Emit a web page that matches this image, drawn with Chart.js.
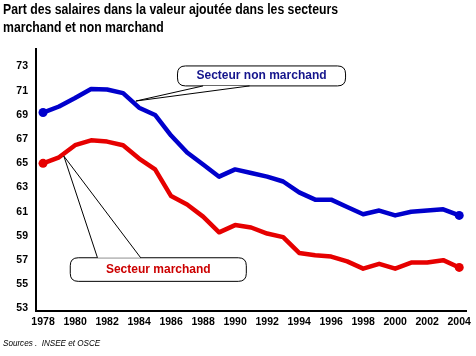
<!DOCTYPE html>
<html><head><meta charset="utf-8">
<script src="https://cdn.jsdelivr.net/npm/chart.js@4.4.0/dist/chart.umd.min.js"></script>
<style>html,body{margin:0;padding:0;background:#fff;}canvas{display:block}</style>
</head><body>
<canvas id="c" width="476" height="356"></canvas>
<script>
// ---- data ----
const years = [1978,1979,1980,1981,1982,1983,1984,1985,1986,1987,1988,1989,1990,1991,1992,1993,1994,1995,1996,1997,1998,1999,2000,2001,2002,2003,2004];
const nonMarchand = [69.2,69.7,70.4,71.15,71.1,70.8,69.6,69.0,67.3,65.9,64.9,63.9,64.5,64.2,63.9,63.5,62.6,62.0,62.0,61.4,60.8,61.1,60.7,61.0,61.1,61.2,60.7];
const marchand = [65.0,65.5,66.5,66.9,66.8,66.5,65.4,64.5,62.3,61.6,60.6,59.3,59.9,59.7,59.2,58.9,57.6,57.4,57.3,56.9,56.3,56.7,56.3,56.8,56.8,57.0,56.4];
const xTickLabels = [1978,1980,1982,1984,1986,1988,1990,1992,1994,1996,1998,2000,2002,2004];
const yTickLabels = [53,55,57,59,61,63,65,67,69,71,73];
const titleLines = ['Part des salaires dans la valeur ajoutée dans les secteurs','marchand et non marchand'];
const sourceText = 'Sources .  INSEE et OSCE';
const calloutLabels = ['Secteur non marchand','Secteur marchand'];

// ---- callouts (in data units) ----
const callouts = [
  {text: calloutLabels[0], color: '#14148c', box: [1986.4, 73.05, 1996.9, 71.4], tip: [1983.8, 70.15], base: [1988.0, 1990.9], side: 'bottom'},
  {text: calloutLabels[1], color: '#cc0000', box: [1979.7, 57.2, 1990.7, 55.25], tip: [1979.3, 65.6], base: [1981.4, 1984.1], side: 'top'}
];

const FONT = "'Liberation Sans', Arial, sans-serif";

function shape(ctx, x1, y1, x2, y2, r) {
  ctx.beginPath();
  ctx.moveTo(x1 + r, y1);
  ctx.lineTo(x2 - r, y1);
  ctx.quadraticCurveTo(x2, y1, x2, y1 + r);
  ctx.lineTo(x2, y2 - r);
  ctx.quadraticCurveTo(x2, y2, x2 - r, y2);
  ctx.lineTo(x1 + r, y2);
  ctx.quadraticCurveTo(x1, y2, x1, y2 - r);
  ctx.lineTo(x1, y1 + r);
  ctx.quadraticCurveTo(x1, y1, x1 + r, y1);
  ctx.closePath();
}

const calloutPlugin = {
  id: 'callouts',
  afterDatasetsDraw(chart) {
    const ctx = chart.ctx, xs = chart.scales.x, ys = chart.scales.y;
    callouts.forEach(c => {
      const x1 = xs.getPixelForValue(c.box[0]), x2 = xs.getPixelForValue(c.box[2]);
      const y1 = ys.getPixelForValue(c.box[1]), y2 = ys.getPixelForValue(c.box[3]);
      const tx = xs.getPixelForValue(c.tip[0]), ty = ys.getPixelForValue(c.tip[1]);
      const bx1 = xs.getPixelForValue(c.base[0]), bx2 = xs.getPixelForValue(c.base[1]);
      const by = c.side === 'bottom' ? y2 : y1;
      ctx.save();
      ctx.lineWidth = 1;
      ctx.strokeStyle = '#000';
      ctx.fillStyle = '#fff';
      shape(ctx, x1, y1, x2, y2, 8);
      ctx.fill();
      ctx.stroke();
      ctx.beginPath();
      ctx.moveTo(bx1, by);
      ctx.lineTo(tx, ty);
      ctx.lineTo(bx2, by);
      ctx.fillStyle = '#fff';
      ctx.fill();
      ctx.beginPath();
      ctx.moveTo(bx1, by);
      ctx.lineTo(tx, ty);
      ctx.moveTo(bx2, by);
      ctx.lineTo(tx, ty);
      ctx.stroke();
      ctx.fillStyle = c.color;
      ctx.font = "bold 12px 'Liberation Sans', Arial, sans-serif";
      ctx.textAlign = 'center';
      ctx.textBaseline = 'middle';
      ctx.fillText(c.text, (x1 + x2) / 2, (y1 + y2) / 2);
      ctx.restore();
    });
  },
  afterDraw(chart) {
    const ctx = chart.ctx;
    ctx.save();
    ctx.fillStyle = '#000';
    ctx.font = "bold 14px 'Liberation Sans', Arial, sans-serif";
    ctx.textBaseline = 'middle';
    ctx.textAlign = 'left';
    titleLines.forEach((t, i) => {
      ctx.save();
      ctx.translate(3, 10 + i * 18);
      ctx.scale(0.875, 1);
      ctx.fillText(t, 0, 0);
      ctx.restore();
    });
    ctx.font = "italic 9px 'Liberation Sans', Arial, sans-serif";
    ctx.save();
    ctx.translate(3, 343);
    ctx.scale(0.9, 1);
    ctx.fillText(sourceText, 0, 0);
    ctx.restore();
    ctx.restore();
  }
};

const endDot = (n) => (ctx) => (ctx.dataIndex === 0 || ctx.dataIndex === n - 1) ? 4.5 : 0;

new Chart(document.getElementById('c'), {
  type: 'line',
  data: {
    datasets: [
      {label: calloutLabels[0], data: years.map((y, i) => ({x: y, y: nonMarchand[i]})),
       borderColor: '#0000cc', backgroundColor: '#0000cc', borderWidth: 4.5, tension: 0,
       pointRadius: endDot(years.length), pointBorderWidth: 0, borderJoinStyle: 'round', borderCapStyle: 'round'},
      {label: calloutLabels[1], data: years.map((y, i) => ({x: y, y: marchand[i]})),
       borderColor: '#e60000', backgroundColor: '#e60000', borderWidth: 4.5, tension: 0,
       pointRadius: endDot(years.length), pointBorderWidth: 0, borderJoinStyle: 'round', borderCapStyle: 'round'}
    ]
  },
  options: {
    responsive: false,
    animation: false,
    layout: {padding: {left: 0, right: 7, top: 49, bottom: 25}},
    plugins: {
      legend: {display: false},
      tooltip: {enabled: false},
      title: {display: false},
      subtitle: {display: false}
    },
    scales: {
      x: {
        type: 'linear', min: 1977.56, max: 2004.45,
        afterBuildTicks: (s) => { s.ticks = xTickLabels.map(v => ({value: v})); },
        afterFit: (s) => { s.height = 20; },
        grid: {display: false, drawTicks: false},
        border: {display: true, color: '#000', width: 2},
        ticks: {color: '#000', padding: 5, maxRotation: 0, autoSkip: false,
          font: {family: FONT, size: 10.5, weight: 'bold'}, callback: (v) => String(v)}
      },
      y: {
        min: 52.8, max: 74.45,
        afterBuildTicks: (s) => { s.ticks = yTickLabels.map(v => ({value: v})); },
        afterFit: (s) => { s.width = 36; },
        grid: {display: false, drawTicks: false},
        border: {display: true, color: '#000', width: 2},
        ticks: {color: '#000', padding: 8, font: {family: FONT, size: 10.5, weight: 'bold'}, callback: (v) => String(v)}
      }
    }
  },
  plugins: [calloutPlugin]
});
</script>
</body></html>
